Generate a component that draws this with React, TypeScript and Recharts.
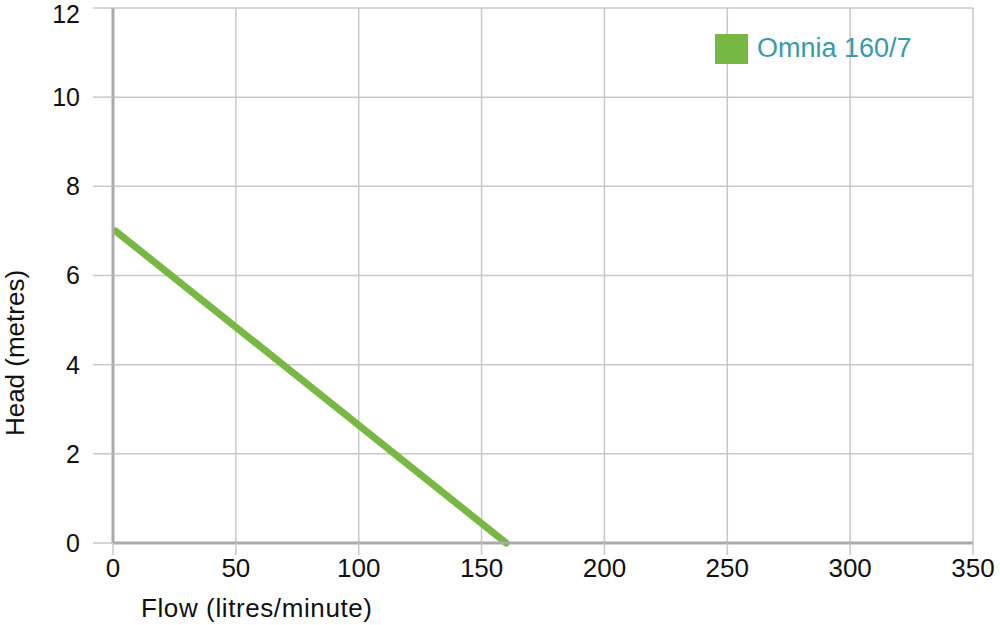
import {
  LineChart,
  Line,
  XAxis,
  YAxis,
  CartesianGrid,
  Legend,
  Label,
} from 'recharts';

const flows = [1, 160];
const heads = [7, 0];
const xTicks = [0, 50, 100, 150, 200, 250, 300, 350];
const yTicks = [0, 2, 4, 6, 8, 10, 12];
const seriesName = 'Omnia 160/7';

const data = flows.map((flow, i) => ({ flow, head: heads[i] }));

const FONT = '"Liberation Sans", Arial, Helvetica, sans-serif';
const GREEN = '#76b843';

function LegendBox() {
  return (
    <div style={{ display: 'flex', alignItems: 'center', fontFamily: FONT }}>
      <span style={{ width: 33, height: 30, background: GREEN, display: 'inline-block' }} />
      <span style={{ marginLeft: 9, fontSize: 27, color: '#3a9aa8' }}>{seriesName}</span>
    </div>
  );
}

export default function App() {
  return (
    <div style={{ position: 'fixed', top: 0, left: 0, width: 1000, height: 625, background: '#fff' }}>
      <LineChart
        width={1000}
        height={625}
        data={data}
        margin={{ top: 8, right: 27, bottom: 0, left: 0 }}
        style={{ fontFamily: FONT }}
      >
        <CartesianGrid stroke="#c8c8c8" strokeWidth={1.5} />
        <XAxis
          dataKey="flow"
          type="number"
          domain={[0, 350]}
          ticks={xTicks}
          height={82}
          tickSize={12}
          tickMargin={4}
          tick={{ fontSize: 26, fill: '#111' }}
          tickLine={{ stroke: '#c8c8c8', strokeWidth: 1.5 }}
          axisLine={{ stroke: '#aaaaaa', strokeWidth: 3 }}
        >
          <Label
            content={() => (
              <text x={141} y={617} fontSize={26} letterSpacing={0.6} fill="#111" fontFamily={FONT}>
                Flow (litres/minute)
              </text>
            )}
          />
        </XAxis>
        <YAxis
          type="number"
          domain={[0, 12]}
          ticks={yTicks}
          width={113}
          tickSize={20}
          tickMargin={13}
          tick={{ fontSize: 25, fill: '#111' }}
          tickLine={{ stroke: '#c8c8c8', strokeWidth: 1.5 }}
          axisLine={{ stroke: '#aaaaaa', strokeWidth: 3 }}
        >
          <Label
            content={() => (
              <text
                x={24}
                y={353}
                fontSize={26}
                fill="#111"
                textAnchor="middle"
                fontFamily={FONT}
                transform="rotate(-90 24 353)"
              >
                Head (metres)
              </text>
            )}
          />
        </YAxis>
        <Legend
          layout="horizontal"
          verticalAlign="middle"
          align="center"
          content={() => <LegendBox />}
          wrapperStyle={{ position: 'absolute', top: 33, left: 715, width: 270 }}
        />
        <Line
          dataKey="head"
          name={seriesName}
          stroke={GREEN}
          strokeWidth={7}
          strokeLinecap="round"
          dot={false}
          isAnimationActive={false}
        />
      </LineChart>
    </div>
  );
}
